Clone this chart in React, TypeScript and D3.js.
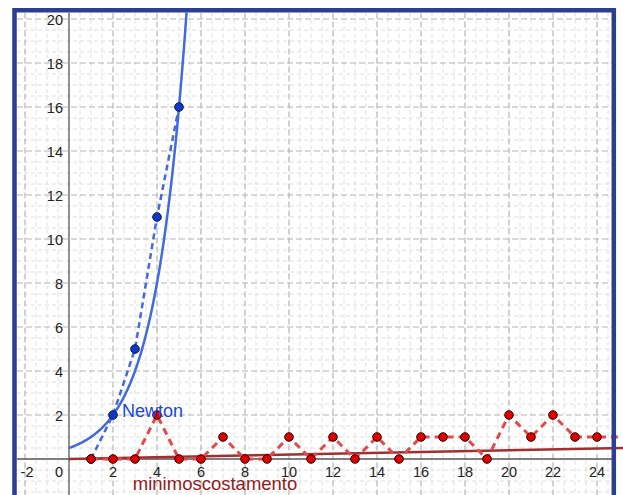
import React, { useMemo } from "react";
import * as d3 from "d3";

const WIDTH = 623;
const HEIGHT = 495;
const UNIT = 22; // px per unit on both axes
const ORIGIN = { x: 69, y: 459 };
const INNER = { left: 17, top: 12.5, right: 612, bottom: 495 };

// Newton sequence (blue, dashed polyline with points)
const newtonX = [1, 2, 3, 4, 5];
const newtonY = [0, 2, 5, 11, 16];

// exponential fit y = A * B^x drawn as a solid curve
const EXP_A = 0.5;
const EXP_B = 2;
const EXP_DOMAIN = [0, 5.4];

// minimo scostamento (red, dashed polyline with points)
const minX = [1, 2, 3, 4, 5, 6, 7, 8, 9, 10, 11, 12, 13, 14, 15, 16, 17, 18, 19, 20, 21, 22, 23, 24, 25];
const minY = [0, 0, 0, 2, 0, 0, 1, 0, 0, 1, 0, 1, 0, 1, 0, 1, 1, 1, 0, 2, 1, 2, 1, 1, 1];

// linear trend through the origin
const TREND_SLOPE = 0.02;

const xTicks = [-2, 0, 2, 4, 6, 8, 10, 12, 14, 16, 18, 20, 22, 24];
const yTicks = [2, 4, 6, 8, 10, 12, 14, 16, 18, 20];

const BORDER = "#2c3e91";
const BLUE = "#4169e1";
const RED = "#e04a4a";
const BROWN = "#a03030";
const FONT = "'Liberation Sans', Arial, sans-serif";

export default function App() {
  const xScale = useMemo(
    () =>
      d3
        .scaleLinear()
        .domain([(0 - ORIGIN.x) / UNIT, (WIDTH - ORIGIN.x) / UNIT])
        .range([0, WIDTH]),
    []
  );
  const yScale = useMemo(
    () =>
      d3
        .scaleLinear()
        .domain([(ORIGIN.y - HEIGHT) / UNIT, ORIGIN.y / UNIT])
        .range([HEIGHT, 0]),
    []
  );

  const [x0, x1] = [xScale.invert(INNER.left), xScale.invert(INNER.right)];
  const [y0, y1] = [yScale.invert(INNER.bottom), yScale.invert(INNER.top)];

  const minorX = d3.range(Math.ceil(x0 * 2) / 2, x1, 0.5).filter((v) => v % 2 !== 0);
  const minorY = d3.range(Math.ceil(y0 * 2) / 2, y1, 0.5).filter((v) => v % 2 !== 0);
  const majorX = d3.range(Math.ceil(x0 / 2) * 2, x1, 2).filter((v) => v !== 0);
  const majorY = d3.range(Math.ceil(y0 / 2) * 2, y1, 2).filter((v) => v !== 0);

  const line = d3
    .line<[number, number]>()
    .x((d) => xScale(d[0]))
    .y((d) => yScale(d[1]));

  const newtonPts = newtonX.map((x, i) => [x, newtonY[i]] as [number, number]);
  const minPts = minX.map((x, i) => [x, minY[i]] as [number, number]);
  const expPts = d3
    .range(EXP_DOMAIN[0], EXP_DOMAIN[1] + 0.001, 0.02)
    .map((x) => [x, EXP_A * Math.pow(EXP_B, x)] as [number, number]);
  const trendPts: [number, number][] = [
    [0, 0],
    [xScale.invert(WIDTH), TREND_SLOPE * xScale.invert(WIDTH)],
  ];

  return (
    <svg
      width={WIDTH}
      height={HEIGHT}
      style={{ position: "absolute", left: 0, top: 0, background: "#fff" }}
      fontFamily={FONT}
    >
      <defs>
        <clipPath id="inner">
          <rect x={INNER.left} y={INNER.top} width={INNER.right - INNER.left} height={INNER.bottom - INNER.top} />
        </clipPath>
        <clipPath id="wide">
          <rect x={INNER.left} y={INNER.top} width={WIDTH - INNER.left} height={INNER.bottom - INNER.top} />
        </clipPath>
      </defs>

      <g clipPath="url(#inner)">
        {/* minor grid */}
        {minorX.map((v) => (
          <line key={"mx" + v} x1={xScale(v)} x2={xScale(v)} y1={INNER.top} y2={INNER.bottom}
            stroke="#dedede" strokeWidth={1} strokeDasharray="4,3" />
        ))}
        {minorY.map((v) => (
          <line key={"my" + v} y1={yScale(v)} y2={yScale(v)} x1={INNER.left} x2={INNER.right}
            stroke="#dedede" strokeWidth={1} strokeDasharray="4,3" />
        ))}
        {/* major grid */}
        {majorX.map((v) => (
          <line key={"Mx" + v} x1={xScale(v)} x2={xScale(v)} y1={INNER.top} y2={INNER.bottom}
            stroke="#b4b4b4" strokeWidth={1.2} strokeDasharray="6,3" />
        ))}
        {majorY.map((v) => (
          <line key={"My" + v} y1={yScale(v)} y2={yScale(v)} x1={INNER.left} x2={INNER.right}
            stroke="#b4b4b4" strokeWidth={1.2} strokeDasharray="6,3" />
        ))}
        {/* axes */}
        <line x1={xScale(0)} x2={xScale(0)} y1={INNER.top} y2={INNER.bottom} stroke="#555" strokeWidth={1.3} />
        <line y1={yScale(0)} y2={yScale(0)} x1={INNER.left} x2={INNER.right} stroke="#555" strokeWidth={1.3} />

        {/* tick labels */}
        {xTicks.map((v) => (
          <text key={"xt" + v}
            x={v === 0 ? xScale(0) - 6 : xScale(v) + (v < 0 ? 2 : 0)}
            y={yScale(0) + 18}
            textAnchor={v === 0 ? "end" : "middle"}
            fontSize={14.5} fill="#222">
            {v}
          </text>
        ))}
        {yTicks.map((v) => (
          <text key={"yt" + v} x={xScale(0) - 6} y={yScale(v) + 6}
            textAnchor="end" fontSize={14.5} fill="#222">
            {v}
          </text>
        ))}
      </g>

      <g clipPath="url(#wide)">
        {/* trend line */}
        <path d={line(trendPts) ?? ""} fill="none" stroke={BROWN} strokeWidth={2.5} />
        {/* red dashed polyline */}
        <path d={line(minPts) ?? ""} fill="none" stroke={RED} strokeWidth={3}
          strokeDasharray="7,5" />
      </g>

      <g clipPath="url(#inner)">
        {/* exponential curve */}
        <path d={line(expPts) ?? ""} fill="none" stroke={BLUE} strokeWidth={2.5} />
        {/* newton dashed polyline */}
        <path d={line(newtonPts) ?? ""} fill="none" stroke={BLUE} strokeWidth={2.5}
          strokeDasharray="6,4" />
        {newtonPts.map((d, i) => (
          <circle key={"np" + i} cx={xScale(d[0])} cy={yScale(d[1])} r={4.3}
            fill="#1238c8" stroke="#0a1a50" strokeWidth={1} />
        ))}
        {minPts.map((d, i) => (
          <circle key={"rp" + i} cx={xScale(d[0])} cy={yScale(d[1])} r={4.3}
            fill="#dd0000" stroke="#3a0000" strokeWidth={1} />
        ))}

        <text x={xScale(2) + 9} y={yScale(2) + 2} fontSize={18} fill="#1a47d8">
          Newton
        </text>
        <text x={xScale(2.9)} y={yScale(-1.41)} fontSize={18.5} fill="#8e1c1c">
          minimoscostamento
        </text>
      </g>

      {/* frame */}
      <path
        d={`M${14.5},${HEIGHT + 5} V${10.3} H${613.8} V${HEIGHT + 5}`}
        fill="none"
        stroke={BORDER}
        strokeWidth={4.5}
      />
    </svg>
  );
}
